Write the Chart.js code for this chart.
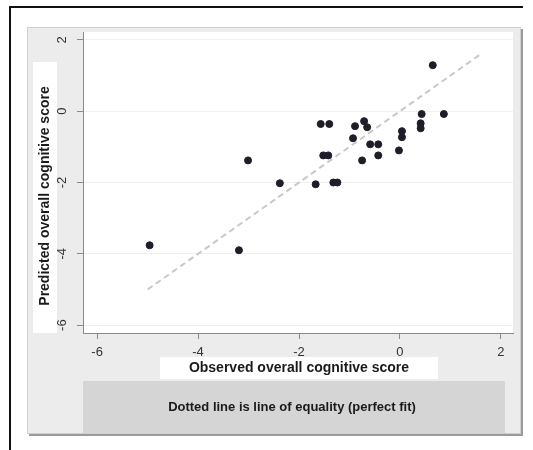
<!DOCTYPE html>
<html>
<head>
<meta charset="utf-8">
<script src="https://cdn.jsdelivr.net/npm/chart.js@4.4.1/dist/chart.umd.min.js"></script>
<style>
  html, body { margin: 0; padding: 0; background: #fff; }
  #wrap { width: 533px; height: 450px; }
</style>
</head>
<body>
<div id="wrap"><canvas id="scatter" width="533" height="450"></canvas></div>
<script>
// values
const observed = [0.65, 0.87, 0.43, 0.41, 0.41, -1.57, -1.40, -0.89, -0.71, -0.65,
  -0.93, 0.04, 0.04, -0.59, -0.43, -0.02, -0.43, -1.52, -1.42, -0.75,
  -1.67, -1.32, -1.24, -3.01, -2.38, -4.96, -3.19];
const predicted = [1.29, -0.08, -0.08, -0.34, -0.48, -0.36, -0.36, -0.42, -0.28, -0.45,
  -0.76, -0.56, -0.73, -0.93, -0.93, -1.10, -1.24, -1.24, -1.24, -1.38,
  -2.05, -2.00, -2.00, -1.38, -2.02, -3.76, -3.90];
const equalityEnds = [-5, 1.6];
const xTicks = [-6, -4, -2, 0, 2];
const yTicks = [-6, -4, -2, 0, 2];
const xTitle = "Observed overall cognitive score";
const yTitle = "Predicted overall cognitive score";
const noteText = "Dotted line is line of equality (perfect fit)";

const FONT = "'Liberation Sans', Arial, sans-serif";

// Stata-style frame, panels and text boxes
const framePlugin = {
  id: "frame",
  beforeDraw(chart) {
    const ctx = chart.ctx;
    const a = chart.chartArea;
    ctx.save();
    ctx.fillStyle = "#fff";
    ctx.fillRect(0, 0, chart.width, chart.height);

    // outer black border (top + left)
    ctx.fillStyle = "#111";
    ctx.fillRect(9, 6, 514, 2);
    ctx.fillRect(9, 6, 2, 444);

    // gray panel with shadow
    ctx.fillStyle = "#9a9a9a";
    ctx.fillRect(29, 29, 494, 407);
    ctx.fillStyle = "#ececec";
    ctx.fillRect(27, 27, 494, 407);
    ctx.strokeStyle = "#d0d0d0";
    ctx.lineWidth = 1;
    ctx.strokeRect(27.5, 27.5, 493, 406);

    // plot region
    ctx.fillStyle = "#fff";
    ctx.fillRect(a.left, a.top, a.right - a.left, a.bottom - a.top);

    // y title box
    ctx.fillRect(33, 62, 24, 271);
    // x title box
    ctx.fillRect(160, 357, 278, 22);
    // note box
    ctx.fillStyle = "#d5d5d5";
    ctx.fillRect(83, 381, 422, 52);
    ctx.restore();
  },
  afterDraw(chart) {
    const ctx = chart.ctx;
    ctx.save();
    ctx.fillStyle = "#1a1a1a";
    ctx.textAlign = "center";
    ctx.textBaseline = "middle";
    ctx.font = "bold 14px " + FONT;
    ctx.fillText(xTitle, 299, 368);

    ctx.save();
    ctx.translate(45, 196);
    ctx.rotate(-Math.PI / 2);
    ctx.fillText(yTitle, 0, 0);
    ctx.restore();

    ctx.font = "bold 13px " + FONT;
    ctx.fillText(noteText, 292, 407);
    ctx.restore();
  }
};

new Chart(document.getElementById("scatter"), {
  type: "scatter",
  data: {
    datasets: [
      {
        label: "Observed vs predicted",
        data: observed.map((x, i) => ({ x: x, y: predicted[i] })),
        backgroundColor: "#1e1e2a",
        borderColor: "#1e1e2a",
        pointRadius: 3.5,
        order: 1
      },
      {
        type: "line",
        label: "Line of equality",
        data: equalityEnds.map(v => ({ x: v, y: v })),
        borderColor: "#c8c8c8",
        borderWidth: 2,
        borderDash: [6, 4],
        pointRadius: 0,
        fill: false,
        order: 2
      }
    ]
  },
  options: {
    responsive: false,
    animation: false,
    devicePixelRatio: 1,
    layout: { padding: { top: 32, right: 20, left: 0, bottom: 0 } },
    plugins: {
      legend: { display: false },
      tooltip: { enabled: false }
    },
    scales: {
      x: {
        type: "linear",
        min: -6.28,
        max: 2.24,
        afterBuildTicks(scale) { scale.ticks = xTicks.map(v => ({ value: v })); },
        afterFit(scale) { scale.height = 117; },
        grid: { drawOnChartArea: false, tickLength: 6, tickColor: "#8a8a8a" },
        border: { color: "#8a8a8a", width: 1 },
        ticks: { padding: 6, color: "#333", font: { family: FONT, size: 13 } }
      },
      y: {
        type: "linear",
        min: -6.22,
        max: 2.22,
        afterBuildTicks(scale) { scale.ticks = yTicks.map(v => ({ value: v })); },
        afterFit(scale) { scale.width = 83; },
        grid: { color: "#f0f0f0", tickLength: 6, tickColor: "#8a8a8a" },
        border: { color: "#8a8a8a", width: 1 },
        ticks: {
          padding: 9,
          minRotation: 90,
          maxRotation: 90,
          crossAlign: "center",
          color: "#333",
          font: { family: FONT, size: 13 }
        }
      }
    }
  },
  plugins: [framePlugin]
});
</script>
</body>
</html>
